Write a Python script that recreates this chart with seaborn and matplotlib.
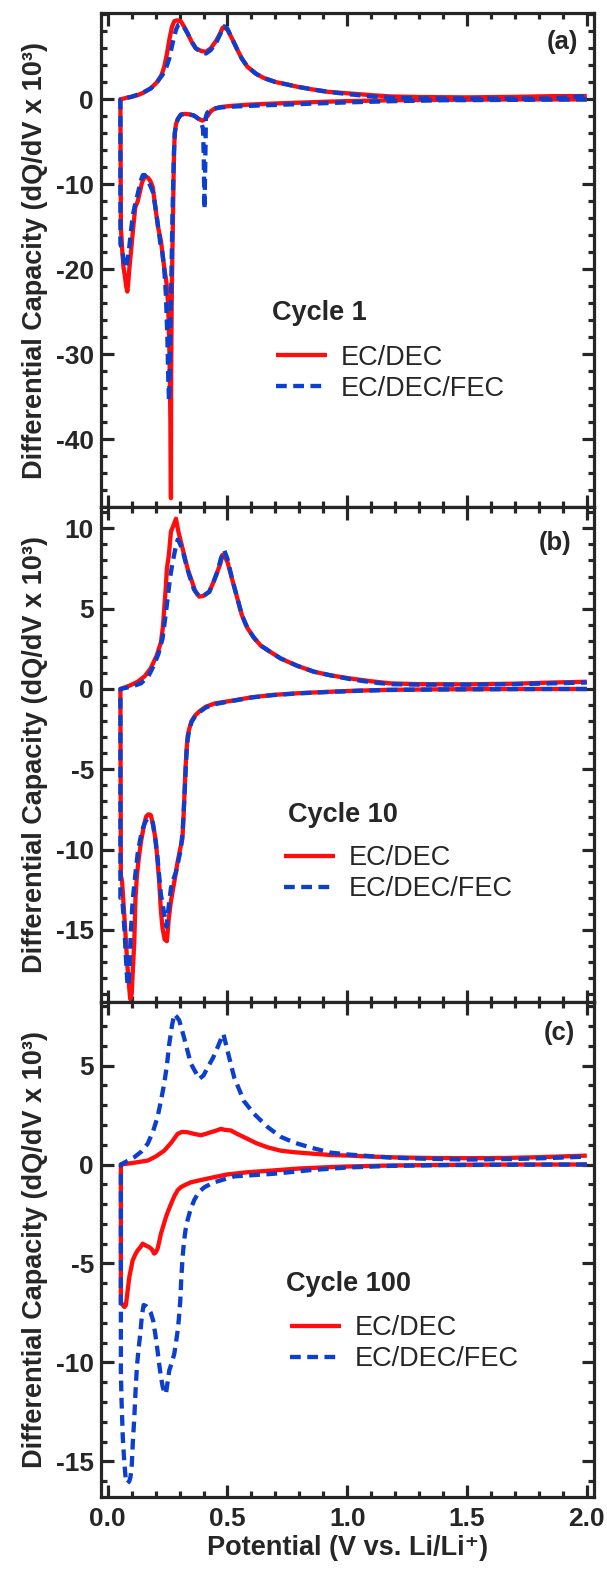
import matplotlib
matplotlib.use("Agg")
import matplotlib.pyplot as plt
from matplotlib.ticker import MultipleLocator, FixedLocator, FormatStrFormatter
import seaborn as sns
import pandas as pd

# ---------------- data (V vs. Li/Li+, dQ/dV x 10^3) ----------------
# Panel (a) Cycle 1
a_dec_dis_v = [2.00, 1.70, 1.40, 1.20, 1.00, 0.90, 0.80, 0.70, 0.60, 0.52, 0.47, 0.445, 0.43, 0.418, 0.405, 0.395, 0.38, 0.36, 0.34, 0.32, 0.305, 0.293, 0.285, 0.280, 0.277, 0.275, 0.273, 0.270, 0.267, 0.265, 0.264, 0.262, 0.258, 0.252, 0.245, 0.236, 0.222, 0.210, 0.198, 0.188, 0.178, 0.168, 0.158, 0.150, 0.143, 0.135, 0.125, 0.115, 0.105, 0.097, 0.090, 0.085, 0.082, 0.077, 0.072, 0.066, 0.060, 0.055]
a_dec_dis_q = [0.00, 0.00, -0.05, -0.10, -0.20, -0.28, -0.38, -0.48, -0.60, -0.75, -0.90, -1.10, -1.40, -1.90, -2.35, -2.50, -2.30, -1.90, -1.75, -1.70, -1.80, -2.30, -2.90, -4.00, -6.00, -9.00, -13.0, -18.0, -24.0, -32.0, -46.9, -38.0, -30.0, -24.0, -21.5, -19.8, -16.6, -15.0, -12.5, -10.3, -9.6, -9.2, -9.1, -9.3, -9.8, -10.8, -12.0, -12.7, -15.5, -18.0, -20.0, -21.8, -22.6, -22.0, -20.8, -19.8, -17.5, -15.0]
a_dec_ch_v = [0.053, 0.08, 0.10, 0.125, 0.15, 0.18, 0.208, 0.225, 0.236, 0.247, 0.257, 0.268, 0.278, 0.29, 0.305, 0.318, 0.333, 0.35, 0.368, 0.39, 0.41, 0.43, 0.455, 0.47, 0.479, 0.49, 0.50, 0.52, 0.542, 0.56, 0.583, 0.62, 0.653, 0.70, 0.75, 0.79, 0.85, 0.917, 1.01, 1.10, 1.18, 1.30, 1.50, 1.70, 1.85, 2.00]
a_dec_ch_q = [0.0, 0.2, 0.3, 0.5, 0.8, 1.3, 2.1, 2.9, 3.85, 5.3, 7.0, 8.5, 9.2, 9.3, 9.2, 8.6, 7.8, 6.8, 6.0, 5.7, 5.6, 6.0, 7.0, 7.8, 8.4, 8.4, 8.2, 7.1, 5.8, 4.8, 3.85, 3.0, 2.5, 2.05, 1.75, 1.5, 1.2, 0.9, 0.7, 0.5, 0.35, 0.28, 0.24, 0.3, 0.38, 0.4]
a_fec_dis_v = [2.00, 1.70, 1.40, 1.20, 1.00, 0.90, 0.80, 0.70, 0.60, 0.52, 0.47, 0.44, 0.425, 0.415, 0.410, 0.407, 0.404, 0.401, 0.398, 0.39, 0.38, 0.36, 0.34, 0.32, 0.305, 0.293, 0.285, 0.280, 0.277, 0.274, 0.270, 0.266, 0.262, 0.258, 0.256, 0.253, 0.249, 0.243, 0.236, 0.228, 0.22, 0.204, 0.19, 0.18, 0.165, 0.155, 0.147, 0.14, 0.132, 0.122, 0.113, 0.105, 0.097, 0.09, 0.082, 0.074, 0.068, 0.062, 0.057, 0.053]
a_fec_dis_q = [0.00, -0.05, -0.10, -0.20, -0.35, -0.45, -0.55, -0.65, -0.75, -0.85, -0.95, -1.1, -1.3, -1.6, -2.0, -8.0, -12.9, -7.0, -3.5, -2.6, -2.3, -1.9, -1.75, -1.70, -1.80, -2.30, -2.90, -4.00, -6.00, -9.00, -14.0, -20.5, -27.0, -33.0, -35.5, -33.0, -28.0, -23.0, -20.0, -18.0, -17.0, -13.6, -11.0, -10.3, -9.4, -8.9, -8.9, -9.4, -10.3, -11.5, -12.5, -13.6, -15.5, -17.4, -19.0, -19.8, -19.3, -18.0, -17.4, -17.0]
a_fec_ch_v = [0.053, 0.097, 0.14, 0.18, 0.205, 0.229, 0.245, 0.257, 0.27, 0.285, 0.295, 0.305, 0.318, 0.333, 0.35, 0.368, 0.39, 0.41, 0.43, 0.455, 0.475, 0.486, 0.50, 0.52, 0.542, 0.56, 0.583, 0.62, 0.653, 0.70, 0.75, 0.79, 0.85, 0.917, 1.01, 1.10, 1.18, 1.30, 1.50, 1.70, 1.85, 1.95, 2.00]
a_fec_ch_q = [0.0, 0.3, 0.7, 1.3, 2.0, 2.9, 3.8, 4.8, 6.5, 8.2, 8.8, 8.9, 8.5, 7.8, 6.8, 6.0, 5.6, 5.4, 5.8, 6.8, 8.0, 8.6, 8.3, 7.1, 5.8, 4.8, 3.85, 3.0, 2.5, 2.05, 1.75, 1.5, 1.2, 0.9, 0.6, 0.35, 0.2, 0.12, 0.1, 0.1, 0.1, 0.3, 0.4]

# Panel (b) Cycle 10
b_dec_dis_v = [2.00, 1.70, 1.40, 1.18, 1.05, 0.93, 0.80, 0.69, 0.60, 0.53, 0.48, 0.447, 0.41, 0.382, 0.365, 0.35, 0.34, 0.334, 0.329, 0.325, 0.322, 0.317, 0.312, 0.302, 0.292, 0.278, 0.264, 0.255, 0.247, 0.238, 0.229, 0.222, 0.215, 0.208, 0.201, 0.19, 0.18, 0.17, 0.16, 0.15, 0.139, 0.13, 0.122, 0.116, 0.111, 0.105, 0.10, 0.094, 0.088, 0.082, 0.076, 0.068, 0.06, 0.055]
b_dec_dis_q = [0.00, 0.00, -0.02, -0.05, -0.10, -0.17, -0.26, -0.37, -0.52, -0.70, -0.82, -0.90, -1.10, -1.40, -1.65, -2.0, -2.5, -2.9, -3.8, -4.9, -6.0, -7.8, -9.3, -10.0, -10.75, -12.0, -13.2, -14.3, -15.7, -15.6, -14.9, -13.8, -12.0, -10.7, -9.5, -8.5, -7.85, -7.8, -7.95, -8.6, -9.5, -10.5, -11.6, -13.0, -15.7, -17.5, -19.0, -19.3, -18.3, -17.2, -15.7, -13.8, -12.0, -11.6]
b_dec_ch_v = [0.053, 0.09, 0.125, 0.155, 0.18, 0.205, 0.222, 0.23, 0.236, 0.242, 0.247, 0.255, 0.264, 0.275, 0.285, 0.295, 0.305, 0.32, 0.335, 0.347, 0.365, 0.382, 0.40, 0.424, 0.44, 0.458, 0.47, 0.479, 0.49, 0.50, 0.52, 0.542, 0.56, 0.583, 0.61, 0.639, 0.68, 0.722, 0.79, 0.86, 0.93, 1.01, 1.10, 1.18, 1.30, 1.50, 1.70, 1.85, 2.00]
b_dec_ch_q = [0.0, 0.2, 0.45, 0.8, 1.3, 2.1, 2.9, 3.8, 5.0, 6.2, 7.5, 8.3, 9.8, 10.2, 10.6, 9.8, 9.2, 8.3, 7.4, 6.9, 6.1, 5.75, 5.8, 6.05, 6.6, 7.3, 7.8, 8.35, 8.2, 7.9, 6.8, 5.6, 4.6, 3.8, 3.2, 2.7, 2.3, 1.9, 1.45, 1.08, 0.85, 0.66, 0.48, 0.35, 0.3, 0.29, 0.33, 0.4, 0.45]
b_fec_dis_v = [2.00, 1.70, 1.40, 1.18, 1.05, 0.93, 0.80, 0.69, 0.60, 0.53, 0.48, 0.447, 0.41, 0.382, 0.365, 0.35, 0.34, 0.334, 0.329, 0.325, 0.32, 0.313, 0.305, 0.295, 0.285, 0.275, 0.264, 0.254, 0.245, 0.236, 0.222, 0.208, 0.198, 0.188, 0.178, 0.167, 0.156, 0.146, 0.135, 0.125, 0.115, 0.104, 0.097, 0.092, 0.088, 0.083, 0.077, 0.07, 0.0625, 0.057, 0.053]
b_fec_dis_q = [0.00, -0.01, -0.03, -0.06, -0.11, -0.18, -0.27, -0.38, -0.53, -0.72, -0.85, -0.95, -1.15, -1.45, -1.7, -2.05, -2.6, -3.1, -4.0, -5.2, -6.8, -8.8, -10.0, -10.7, -11.4, -11.8, -12.4, -13.6, -14.8, -14.0, -12.8, -10.5, -9.3, -8.3, -8.1, -8.05, -8.3, -8.7, -9.4, -10.25, -11.6, -13.2, -15.0, -16.8, -18.3, -18.5, -17.0, -15.0, -13.4, -13.0, -13.0]
b_fec_ch_v = [0.053, 0.10, 0.139, 0.17, 0.194, 0.212, 0.229, 0.24, 0.25, 0.26, 0.271, 0.282, 0.292, 0.30, 0.312, 0.325, 0.34, 0.36, 0.382, 0.40, 0.424, 0.44, 0.458, 0.472, 0.486, 0.50, 0.52, 0.542, 0.56, 0.583, 0.61, 0.639, 0.68, 0.722, 0.79, 0.86, 0.93, 1.01, 1.10, 1.18, 1.30, 1.50, 1.70, 1.85, 2.00]
b_fec_ch_q = [0.0, 0.15, 0.35, 0.8, 1.5, 2.2, 3.15, 4.4, 5.6, 6.9, 7.9, 8.7, 9.3, 9.1, 8.65, 7.9, 7.1, 6.2, 5.75, 5.8, 6.05, 6.6, 7.3, 8.1, 8.65, 8.1, 6.8, 5.6, 4.6, 3.8, 3.2, 2.7, 2.3, 1.9, 1.45, 1.08, 0.85, 0.62, 0.42, 0.3, 0.27, 0.27, 0.3, 0.35, 0.4]

# Panel (c) Cycle 100
c_dec_dis_v = [2.00, 1.70, 1.40, 1.18, 1.0, 0.93, 0.80, 0.69, 0.583, 0.50, 0.444, 0.39, 0.347, 0.32, 0.305, 0.292, 0.278, 0.264, 0.254, 0.243, 0.232, 0.222, 0.215, 0.208, 0.2, 0.194, 0.185, 0.174, 0.16, 0.146, 0.135, 0.125, 0.115, 0.104, 0.09, 0.083, 0.076, 0.07, 0.0625, 0.057, 0.055]
c_dec_dis_q = [0.0, 0.0, -0.02, -0.05, -0.1, -0.13, -0.2, -0.3, -0.39, -0.5, -0.64, -0.78, -0.9, -1.05, -1.15, -1.3, -1.6, -2.0, -2.3, -2.66, -3.1, -3.5, -3.9, -4.26, -4.45, -4.5, -4.3, -4.18, -4.1, -4.0, -4.2, -4.34, -4.55, -4.85, -5.7, -6.4, -7.1, -7.2, -7.1, -7.0, -7.0]
c_dec_ch_v = [0.055, 0.10, 0.167, 0.2, 0.236, 0.265, 0.292, 0.31, 0.333, 0.36, 0.389, 0.41, 0.43, 0.45, 0.472, 0.49, 0.514, 0.54, 0.583, 0.62, 0.667, 0.722, 0.78, 0.853, 0.93, 1.01, 1.10, 1.20, 1.34, 1.50, 1.66, 1.80, 1.90, 2.00]
c_dec_ch_q = [0.0, 0.07, 0.2, 0.4, 0.7, 1.1, 1.55, 1.65, 1.63, 1.55, 1.48, 1.55, 1.63, 1.7, 1.8, 1.75, 1.72, 1.55, 1.3, 1.08, 0.87, 0.7, 0.62, 0.55, 0.48, 0.45, 0.4, 0.36, 0.33, 0.32, 0.33, 0.37, 0.41, 0.45]
c_fec_dis_v = [2.00, 1.70, 1.40, 1.18, 1.0, 0.85, 0.69, 0.653, 0.528, 0.444, 0.403, 0.38, 0.361, 0.345, 0.333, 0.325, 0.319, 0.3125, 0.307, 0.303, 0.297, 0.292, 0.285, 0.278, 0.268, 0.257, 0.25, 0.243, 0.236, 0.229, 0.222, 0.215, 0.208, 0.199, 0.19, 0.18, 0.17, 0.16, 0.15, 0.143, 0.136, 0.129, 0.122, 0.116, 0.111, 0.105, 0.10, 0.095, 0.09, 0.083, 0.076, 0.069, 0.063, 0.058, 0.055]
c_fec_dis_q = [0.0, -0.01, -0.03, -0.07, -0.15, -0.28, -0.47, -0.5, -0.6, -0.9, -1.15, -1.4, -1.8, -2.3, -2.83, -3.3, -3.84, -4.68, -5.8, -6.87, -7.8, -8.4, -9.0, -9.56, -10.0, -10.4, -11.0, -11.6, -11.5, -11.2, -10.7, -10.1, -9.4, -8.6, -7.9, -7.5, -7.3, -7.15, -7.1, -7.6, -8.55, -9.3, -10.2, -11.5, -12.8, -14.0, -15.3, -15.8, -16.0, -16.1, -16.0, -15.0, -13.8, -12.0, -10.5]
c_fec_ch_v = [0.055, 0.111, 0.14, 0.167, 0.19, 0.208, 0.222, 0.236, 0.247, 0.257, 0.268, 0.278, 0.289, 0.299, 0.319, 0.347, 0.382, 0.40, 0.417, 0.44, 0.458, 0.475, 0.483, 0.50, 0.528, 0.569, 0.611, 0.667, 0.722, 0.78, 0.85, 0.93, 1.01, 1.10, 1.18, 1.30, 1.50, 1.70, 1.85, 2.00]
c_fec_ch_q = [0.0, 0.37, 0.65, 1.05, 1.7, 2.4, 3.2, 4.1, 5.0, 6.1, 7.0, 7.6, 7.45, 7.27, 6.4, 5.1, 4.33, 4.5, 4.9, 5.4, 5.9, 6.4, 6.6, 5.75, 4.4, 3.2, 2.56, 1.9, 1.4, 1.1, 0.85, 0.6, 0.5, 0.42, 0.35, 0.3, 0.25, 0.28, 0.33, 0.4]

series_names = ["EC/DEC", "EC/DEC/FEC"]
panel_labels = ["(a)", "(b)", "(c)"]
cycle_titles = ["Cycle 1", "Cycle 10", "Cycle 100"]
y_major = [[-40, -30, -20, -10, 0], [-15, -10, -5, 0, 5, 10], [-15, -10, -5, 0, 5]]
x_ticks = [0.0, 0.5, 1.0, 1.5, 2.0]
ylabel = "Differential Capacity (dQ/dV x 10³)"
xlabel = "Potential (V vs. Li/Li⁺)"

panels = [
    ((a_dec_dis_v, a_dec_dis_q, a_dec_ch_v, a_dec_ch_q), (a_fec_dis_v, a_fec_dis_q, a_fec_ch_v, a_fec_ch_q)),
    ((b_dec_dis_v, b_dec_dis_q, b_dec_ch_v, b_dec_ch_q), (b_fec_dis_v, b_fec_dis_q, b_fec_ch_v, b_fec_ch_q)),
    ((c_dec_dis_v, c_dec_dis_q, c_dec_ch_v, c_dec_ch_q), (c_fec_dis_v, c_fec_dis_q, c_fec_ch_v, c_fec_ch_q)),
]

# ---------------- style ----------------
sns.set_style("ticks")
plt.rcParams["font.family"] = ["Liberation Sans", "DejaVu Sans"]
plt.rcParams["font.weight"] = "bold"
plt.rcParams["axes.unicode_minus"] = False

RED = "#FF0D0D"
BLUE = "#0D3FCF"
LW = 3.1

ylims = [(-48.0, 10.2), (-19.5, 11.3), (-16.8, 8.2)]
yminor = [2, 1, 1]
legend_pos = [(0.355, 0.271), (0.371, 0.260), (0.383, 0.310)]
title_pos = [(0.347, 0.393), (0.379, 0.379), (0.375, 0.430)]
plabel_pos = [(0.935, 0.941), (0.921, 0.928), (0.929, 0.938)]

fig = plt.figure(figsize=(6.07, 15.72), dpi=100)
gs = fig.add_gridspec(3, 1, left=101 / 607, right=594 / 607,
                      top=1 - 12.7 / 1572, bottom=1 - 1497 / 1572, hspace=0)
axes = [fig.add_subplot(gs[i]) for i in range(3)]

for i, ax in enumerate(axes):
    handles = []
    for j, (dv, dq, cv, cq) in enumerate(panels[i]):
        df = pd.DataFrame({"V": list(dv) + list(cv), "Q": list(dq) + list(cq)})
        sns.lineplot(data=df, x="V", y="Q", sort=False, estimator=None,
                     color=RED if j == 0 else BLUE, lw=LW, ax=ax, legend=False)
        line = ax.lines[-1]
        if j == 1:
            line.set_linestyle((0, (2.5, 1.5)))
        line.set_solid_capstyle("butt")
        line.set_dash_capstyle("butt")
        handles.append(line)

    ax.set_xlim(-0.028, 2.03)
    ax.set_ylim(*ylims[i])
    ax.xaxis.set_major_locator(FixedLocator(x_ticks))
    ax.xaxis.set_minor_locator(MultipleLocator(0.1))
    ax.yaxis.set_major_locator(FixedLocator(y_major[i]))
    ax.yaxis.set_minor_locator(MultipleLocator(yminor[i]))
    ax.xaxis.set_major_formatter(FormatStrFormatter("%.1f"))
    ax.tick_params(which="both", direction="in", top=True, right=True,
                   width=2.3, labelsize=19)
    ax.tick_params(which="major", length=9)
    ax.tick_params(which="minor", length=4.5)
    ax.tick_params(axis="y", pad=5)
    ax.tick_params(axis="x", pad=7)
    for s in ax.spines.values():
        s.set_linewidth(2.3)
    if i < 2:
        ax.tick_params(axis="x", labelbottom=False)
        ax.set_xlabel("")
    else:
        ax.set_xlabel(xlabel, fontsize=19.5, fontweight="bold", labelpad=3)
    ax.set_ylabel(ylabel, fontsize=19.5, fontweight="bold")
    ax.yaxis.set_label_coords(-0.108, 0.5)

    ax.text(*plabel_pos[i], panel_labels[i], transform=ax.transAxes,
            ha="center", va="center", fontsize=18.5, fontweight="bold")
    ax.text(*title_pos[i], cycle_titles[i], transform=ax.transAxes,
            ha="left", va="center", fontsize=19.5, fontweight="bold")
    ax.legend(handles, series_names, loc="center left",
              bbox_to_anchor=legend_pos[i], frameon=False,
              prop={"size": 19.5, "weight": "normal"}, handlelength=1.9,
              handletextpad=0.5, borderpad=0, borderaxespad=0,
              labelspacing=0.18)

fig.savefig("out.png", dpi=100)
